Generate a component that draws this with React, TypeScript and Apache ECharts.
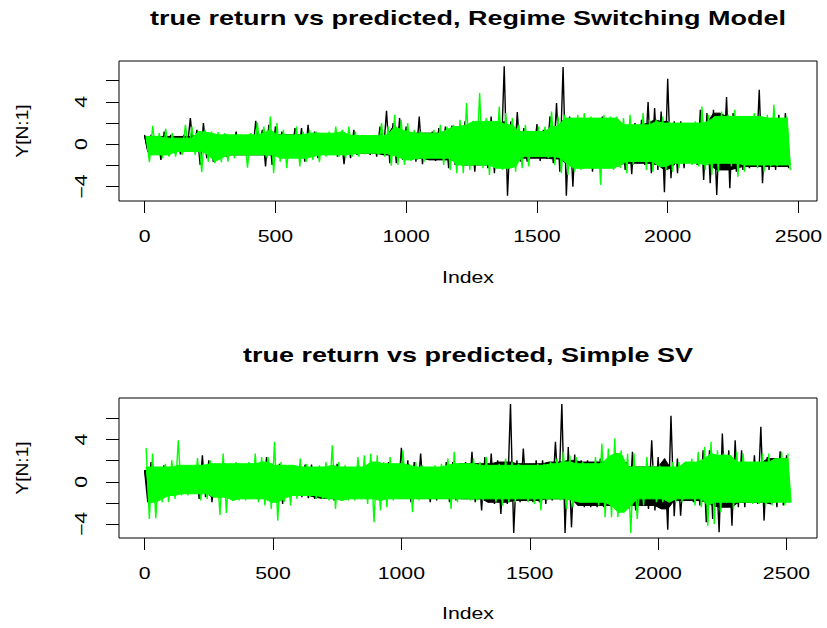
import React, { useEffect, useRef } from "react";
import * as echarts from "echarts";

// ---- data (envelope of each 25-step block) ----
const BIN = 25;
const TOP_N = 2472;
const BOTTOM_N = 2518;

const topBlackHi = [0.88,0.88,0.73,1.20,0.88,0.73,0.88,2.46,1.36,1.99,1.04,0.73,0.88,0.73,1.20,0.73,0.88,2.21,1.36,1.83,1.67,1.20,0.88,
1.51,1.51,1.83,1.20,0.88,0.88,1.04,1.14,0.88,1.36,0.73,0.73,0.73,1.67,3.15,1.99,2.46,1.67,1.04,2.62,1.04,1.20,1.51,1.67,1.77,
1.67,2.15,1.51,1.83,1.67,2.62,2.15,7.35,2.15,3.03,1.51,1.20,1.89,1.36,2.62,3.88,7.29,2.62,2.30,2.46,2.46,2.15,2.62,2.46,1.83,1.20,
1.83,1.99,2.30,3.97,3.41,3.09,6.18,2.15,2.15,1.51,1.99,3.25,2.93,3.25,2.93,4.45,2.93,2.62,2.46,2.15,5.14,2.46,2.15,2.78,2.93];
const topBlackLo = [-0.69,-1.01,-1.48,-1.01,-0.85,-0.95,-0.54,-0.69,-1.96,-1.32,-1.64,-1.17,-1.17,-1.01,-1.01,-1.01,-1.01,-1.01,-2.11,-1.96,-1.17,-1.17,-1.01,
-1.32,-1.64,-1.17,-1.32,-1.01,-0.95,-1.17,-1.89,-1.32,-1.01,-0.85,-1.01,-1.17,-1.01,-1.80,-1.80,-1.48,-1.32,-1.64,-1.89,-1.48,-1.58,-1.48,-2.27,-1.96,
-1.96,-1.96,-2.59,-1.96,-2.27,-2.74,-2.11,-4.86,-1.96,-1.64,-1.64,-1.32,-1.58,-1.39,-1.80,-2.59,-4.86,-4.01,-2.27,-1.96,-2.59,-2.11,-1.96,-2.11,-2.11,-2.43,
-2.84,-1.80,-1.96,-2.74,-2.43,-4.54,-3.22,-2.74,-2.27,-1.64,-1.96,-3.38,-3.69,-4.79,-2.43,-4.16,-2.59,-2.43,-2.27,-2.11,-3.69,-2.43,-2.43,-2.11,-2.27];
const topGreenHi = [0.73,1.73,1.04,1.45,1.04,0.57,1.83,1.67,1.20,1.36,1.20,1.14,1.04,0.88,0.88,0.88,1.04,2.05,1.67,2.62,1.99,1.36,0.88,
1.67,1.20,1.36,1.20,1.04,1.20,1.67,1.36,1.67,1.20,0.88,0.82,0.88,1.99,1.67,2.78,2.30,1.99,1.36,1.20,1.04,1.36,1.83,1.67,1.83,
2.30,3.88,2.15,4.83,2.46,2.15,3.56,2.93,2.46,1.83,1.83,1.20,1.67,1.67,3.09,2.62,2.78,2.46,2.78,2.93,2.62,2.46,2.78,2.62,2.62,2.46,
2.78,1.83,2.93,2.30,2.30,2.62,2.15,1.99,1.99,1.99,2.15,3.56,2.78,2.62,3.09,2.78,3.25,2.62,2.62,2.93,2.62,2.78,3.72,2.46,2.62];
const topGreenLo = [-1.70,-1.01,-1.32,-1.17,-1.17,-1.01,-0.69,-1.01,-2.65,-1.64,-1.80,-1.70,-1.64,-1.32,-1.01,-2.21,-1.01,-1.01,-1.32,-2.74,-1.64,-2.27,-1.32,
-2.11,-1.64,-1.48,-1.70,-1.17,-1.01,-1.17,-1.32,-1.17,-1.17,-0.95,-0.85,-1.01,-1.17,-2.02,-1.96,-1.96,-1.58,-1.48,-1.64,-1.32,-1.32,-1.96,-2.43,-2.74,
-2.74,-2.43,-1.96,-2.27,-2.90,-2.27,-2.43,-2.27,-2.59,-2.27,-2.11,-1.17,-1.17,-1.32,-1.96,-2.74,-2.90,-2.59,-2.43,-2.27,-2.27,-3.85,-2.27,-2.43,-2.27,-2.74,
-1.96,-1.64,-2.43,-2.59,-2.11,-2.43,-2.59,-2.27,-1.80,-1.96,-2.11,-2.43,-2.90,-2.59,-1.80,-2.11,-3.06,-2.59,-1.96,-2.27,-2.59,-2.11,-2.11,-1.96,-2.43];

const botBlackHi = [1.08,1.87,1.08,1.56,1.24,1.40,1.30,1.24,1.40,2.51,2.03,1.17,1.24,1.24,1.24,1.08,1.08,1.08,1.40,2.35,1.71,1.71,
1.40,1.40,1.24,1.62,1.62,1.40,1.24,1.40,1.71,1.24,1.08,0.92,1.24,1.40,1.40,1.56,1.87,1.40,3.21,2.03,1.87,2.67,1.40,1.24,1.24,1.87,1.87,
1.71,1.87,2.83,1.71,2.35,2.67,2.03,1.87,7.37,2.03,3.14,1.71,2.03,2.03,1.87,3.78,7.37,3.30,2.57,2.03,2.03,1.87,2.19,2.03,2.03,2.03,
1.87,2.83,1.40,1.40,3.94,2.35,2.19,6.25,2.19,1.24,1.71,1.87,2.98,2.98,2.03,4.57,2.98,3.94,2.98,1.71,2.51,5.21,2.35,2.19,2.89,2.51];
const botBlackLo = [-1.94,-1.30,-1.14,-1.14,-0.98,-1.14,-0.98,-0.98,-1.62,-1.46,-1.94,-1.46,-1.46,-1.30,-1.30,-1.30,-1.46,-1.62,-1.62,-1.62,-1.62,-2.10,
-1.46,-1.30,-1.46,-1.56,-1.62,-1.56,-1.62,-1.78,-1.62,-1.62,-1.62,-1.46,-1.62,-1.62,-1.62,-1.62,-1.46,-1.46,-1.62,-1.94,-1.62,-1.56,-1.94,-1.78,-1.56,-1.94,-1.78,
-1.62,-1.62,-1.94,-2.73,-1.94,-2.10,-3.05,-2.10,-4.85,-1.94,-1.78,-1.94,-1.94,-2.10,-1.78,-1.62,-4.85,-4.32,-2.25,-2.41,-2.41,-2.41,-2.41,-2.25,-2.41,-2.57,
-2.57,-2.73,-2.25,-2.57,-2.73,-2.57,-4.54,-3.27,-3.21,-1.78,-1.94,-2.25,-3.84,-3.52,-4.79,-2.41,-4.16,-2.41,-2.41,-1.94,-2.10,-3.68,-2.10,-2.41,-2.25,-1.78];
const botGreenHi = [3.21,2.67,1.40,1.71,2.03,3.94,1.56,1.56,2.25,1.71,2.03,1.71,2.67,1.71,1.87,1.71,1.87,2.67,2.35,2.35,3.78,1.87,
1.56,1.56,2.19,1.71,1.40,1.56,1.87,3.46,1.87,1.56,1.40,2.35,2.51,2.67,2.51,1.87,2.35,1.71,2.98,1.71,1.87,1.56,1.40,1.56,1.71,2.19,2.83,
1.71,1.71,2.19,1.87,2.35,1.56,1.71,2.19,1.87,1.71,1.56,1.56,1.71,1.71,1.87,2.19,2.83,2.51,2.35,1.87,1.71,2.35,3.62,3.14,4.10,2.98,
2.67,2.67,1.40,2.35,1.56,1.56,1.40,1.87,1.87,1.87,2.19,2.83,3.30,3.78,2.98,2.67,2.51,2.83,2.67,1.87,1.87,2.67,2.67,2.19,2.83,2.67];
const botGreenLo = [-3.52,-3.46,-1.94,-1.94,-1.62,-1.30,-1.30,-1.14,-1.78,-1.62,-1.46,-3.14,-2.95,-1.78,-1.78,-1.78,-1.62,-1.94,-2.25,-2.57,-3.68,-1.94,
-2.25,-1.62,-1.30,-1.46,-1.62,-1.62,-1.78,-2.57,-1.78,-1.78,-1.78,-1.62,-2.10,-3.84,-2.73,-2.41,-1.78,-1.62,-1.62,-2.89,-1.78,-1.62,-1.62,-1.62,-1.62,-2.57,-1.94,
-1.62,-1.78,-1.78,-1.78,-1.62,-1.94,-2.25,-1.94,-1.94,-1.62,-1.94,-2.10,-2.73,-1.78,-1.62,-1.78,-2.57,-2.41,-1.94,-1.94,-1.94,-2.25,-3.37,-3.37,-3.37,-2.89,
-4.85,-3.52,-2.25,-1.62,-1.94,-1.94,-1.94,-1.94,-1.94,-1.62,-2.25,-2.41,-4.16,-4.00,-2.89,-1.94,-2.57,-1.94,-1.94,-2.10,-2.10,-2.25,-2.25,-1.94,-2.25,-2.10];

const X_TICKS = [0, 500, 1000, 1500, 2000, 2500];
const Y_TICKS = [-4, -2, 0, 2, 4, 6];
const Y_LABELS = [-4, 0, 4];
const TITLES = [
  "true return vs predicted, Regime Switching Model",
  "true return vs predicted, Simple SV",
];
const X_NAME = "Index";
const Y_NAME = "Y[N:1]";

// axis limits (R style 4% extension)
const X_LIMITS = [[-97.8, 2570.8], [-99.7, 2618.7]];
const Y_LIMITS = [[-5.36, 7.85], [-5.33, 7.94]];

// zig-zag between the upper and lower envelope of every block
function zig(hi: number[], lo: number[], offset: number, n: number) {
  const out: number[][] = [];
  for (let b = 0; b < hi.length; b++) {
    const x1 = b * BIN + offset;
    const x2 = b * BIN + offset + BIN / 2;
    if (x1 <= n) out.push([x1, hi[b]]);
    if (x2 <= n) out.push([x2, lo[b]]);
  }
  return out;
}

// dense core of the band: envelope with isolated spikes removed (min over neighbours)
const CORE_RADIUS = 2;
function core(hi: number[], lo: number[], offset: number, n: number) {
  const up: number[][] = [];
  const dn: number[][] = [];
  for (let b = 0; b < hi.length; b++) {
    let h = Infinity;
    let l = -Infinity;
    for (let k = b - CORE_RADIUS; k <= b + CORE_RADIUS; k++) {
      if (k < 0 || k >= hi.length) continue;
      h = Math.min(h, hi[k]);
      l = Math.max(l, lo[k]);
    }
    up.push([Math.min(n, b * BIN + offset), h]);
    dn.push([Math.min(n, b * BIN + offset + BIN / 2), l]);
  }
  return up.concat(dn.reverse());
}

const FONT = '"Liberation Sans", Arial, Helvetica, sans-serif';
const BLACK = "#000000";
const GREEN = "#00ff00";

export default function App() {
  const ref = useRef<HTMLDivElement>(null);
  useEffect(() => {
    if (!ref.current) return;
    const chart = echarts.init(ref.current, null, { renderer: "svg" });
    const grids = [
      { left: 119, right: 10, top: 61, height: 140 },
      { left: 119, right: 10, top: 398, height: 140 },
    ].map((g) => ({ ...g, show: true, borderColor: "#000", borderWidth: 1, backgroundColor: "transparent" }));

    const xAxes = [0, 1].map((i) => ({
      type: "value",
      gridIndex: i,
      min: X_LIMITS[i][0],
      max: X_LIMITS[i][1],
      axisLine: { show: false, onZero: false },
      axisTick: { show: true, customValues: X_TICKS, length: 12, lineStyle: { color: "#000", width: 1 } },
      axisLabel: { show: false },
      splitLine: { show: false },
    }));
    const yAxes = [0, 1].map((i) => ({
      type: "value",
      gridIndex: i,
      min: Y_LIMITS[i][0],
      max: Y_LIMITS[i][1],
      axisLine: { show: false, onZero: false },
      axisTick: { show: true, customValues: Y_TICKS, length: 13, lineStyle: { color: "#000", width: 1 } },
      axisLabel: { show: false },
      splitLine: { show: false },
    }));
    const line = (data: number[][], i: number, color: string, z: number) => ({
      type: "line",
      xAxisIndex: i,
      yAxisIndex: i,
      data,
      z,
      symbol: "none",
      showSymbol: false,
      silent: true,
      lineStyle: { color, width: 1.4 },
    });
    const band = (pts: number[][], i: number, color: string, z: number) => ({
      type: "custom",
      xAxisIndex: i,
      yAxisIndex: i,
      silent: true,
      z,
      data: [[0, 0]],
      renderItem: (_p: any, api: any) => ({
        type: "polygon",
        shape: { points: pts.map((p) => api.coord(p)) },
        style: { fill: color, stroke: color, lineWidth: 1 },
      }),
    });
    chart.setOption({
      animation: false,
      backgroundColor: "#fff",
      grid: grids,
      xAxis: xAxes,
      yAxis: yAxes,
      series: [
        band(core(topBlackHi, topBlackLo, 0, TOP_N), 0, BLACK, 2),
        line(zig(topBlackHi, topBlackLo, 0, TOP_N), 0, BLACK, 3),
        band(core(topGreenHi, topGreenLo, 6, TOP_N), 0, GREEN, 4),
        line(zig(topGreenHi, topGreenLo, 6, TOP_N), 0, GREEN, 5),
        band(core(botBlackHi, botBlackLo, 0, BOTTOM_N), 1, BLACK, 2),
        line(zig(botBlackHi, botBlackLo, 0, BOTTOM_N), 1, BLACK, 3),
        band(core(botGreenHi, botGreenLo, 6, BOTTOM_N), 1, GREEN, 4),
        line(zig(botGreenHi, botGreenLo, 6, BOTTOM_N), 1, GREEN, 5),
      ],
    });

    const g: any[] = [];
    const txt = (text: string, x: number, y: number, size: number, sx: number, bold = false, rot = 0) => ({
      type: "text",
      x,
      y,
      rotation: rot,
      scaleX: sx,
      silent: true,
      z: 10,
      style: {
        text,
        fill: "#000",
        font: `${bold ? "bold " : ""}${size}px ${FONT}`,
        textAlign: "center",
        textVerticalAlign: "middle",
        align: "center",
        verticalAlign: "middle",
      },
    });
    const tickLabelY = [236, 573];
    const nameY = [277, 613];
    const titleY = [18, 355];
    for (let p = 0; p < 2; p++) {
      const x0 = chart.convertToPixel({ xAxisIndex: p }, X_LIMITS[p][0]) as number;
      const x1 = chart.convertToPixel({ xAxisIndex: p }, X_LIMITS[p][1]) as number;
      const y0 = chart.convertToPixel({ yAxisIndex: p }, Y_LIMITS[p][0]) as number;
      const y1 = chart.convertToPixel({ yAxisIndex: p }, Y_LIMITS[p][1]) as number;
      const cx = (x0 + x1) / 2;
      const cy = (y0 + y1) / 2;
      X_TICKS.forEach((t) => {
        const px = chart.convertToPixel({ xAxisIndex: p }, t) as number;
        g.push(txt(String(t), px, tickLabelY[p], 16, 1.33));
      });
      Y_LABELS.forEach((t) => {
        const py = chart.convertToPixel({ yAxisIndex: p }, t) as number;
        g.push(txt(t < 0 ? "\u2212" + Math.abs(t) : String(t), 81, py, 16, 1.33, false, Math.PI / 2));
      });
      g.push(txt(TITLES[p], cx, titleY[p], 20, 1.35, true));
      g.push(txt(X_NAME, cx, nameY[p], 16, 1.33));
      g.push(txt(Y_NAME, 23, cy, 16, 1.2, false, Math.PI / 2));
    }
    chart.setOption({ graphic: g });
    return () => chart.dispose();
  }, []);
  return (
    <div
      ref={ref}
      style={{ position: "absolute", left: 0, top: 0, width: 827, height: 628, background: "#fff" }}
    />
  );
}
